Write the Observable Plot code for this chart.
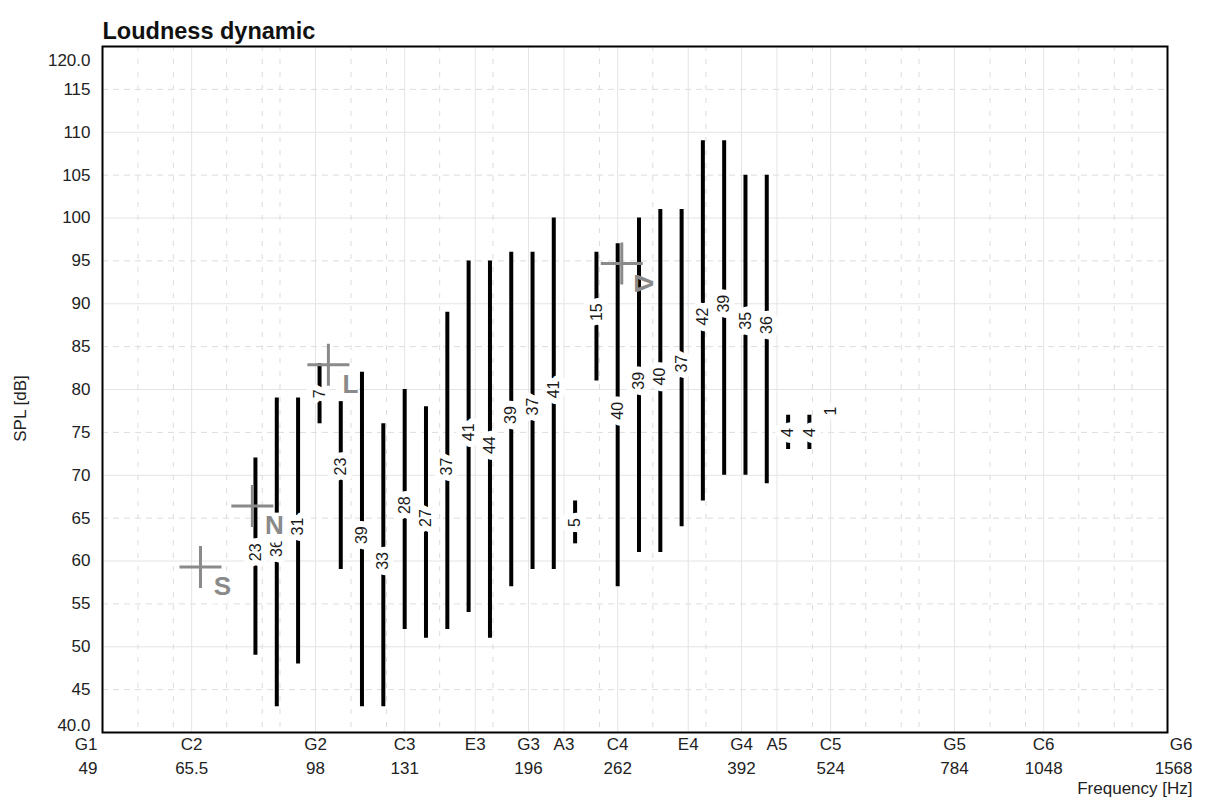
<!DOCTYPE html>
<html><head><meta charset="utf-8">
<script src="https://cdn.jsdelivr.net/npm/d3@7"></script>
<script src="https://cdn.jsdelivr.net/npm/@observablehq/plot@0.6"></script>
<style>body{margin:0;background:#fff;} svg{display:block}</style>
</head><body><div id="chart"></div>
<script>
// ---- data ----
const barFreq = [80.6, 86.4, 92.6, 99.3, 106.4, 114.0, 122.2, 131, 140.4, 150.5, 161.3, 172.9, 185.3, 198.6, 212.8, 228.1, 244.5, 262, 280.8, 301.0, 322.6, 345.7, 370.5, 397.1, 425.6, 456.2, 488.9, 524];
const barLow  = [49, 43, 48, 76, 59, 43, 43, 52, 51, 52, 54, 51, 57, 59, 59, 62, 81, 57, 61, 61, 64, 67, 70, 70, 69, 73, 73, 77];
const barHigh = [72, 79, 79, 83, 82, 82, 76, 80, 78, 89, 95, 95, 96, 96, 100, 67, 96, 97, 100, 101, 101, 109, 109, 105, 105, 77, 77, 78];
const barLabel = [23, 36, 31, 7, 23, 39, 33, 28, 27, 37, 41, 44, 39, 37, 41, 5, 15, 40, 39, 40, 37, 42, 39, 35, 36, 4, 4, 1];

const markerLetter = ["S", "N", "L", "Δ"];
const markerFreq = [67.4, 79.8, 102.2, 265.5];
const markerSPL = [59.3, 66.4, 82.9, 94.7];

const noteNames = ["G1","C2","G2","C3","E3","G3","A3","C4","E4","G4","A5","C5","G5","C6","G6"];
const majorFreq = [49, 65.5, 98, 131, 164.8, 196, 220, 262, 329.6, 392, 440, 524, 784, 1048, 1568];
const freqLabels = ["49","65.5","98","131","","196","","262","","392","","524","784","1048","1568"];
const minorFreq = [55, 61.7, 73.4, 82.4, 87.3, 110, 123.5, 146.8, 174.6, 246.9, 293.7, 349.2, 493.9, 587.3, 659.3, 698.5, 880, 987.8, 1174.7, 1318.5, 1396.9];

const splTicks = [40,45,50,55,60,65,70,75,80,85,90,95,100,105,110,115,120];
const splLabels = ["40.0","45","50","55","60","65","70","75","80","85","90","95","100","105","110","115","120.0"];
const solidY = [50,60,70,80,90,100,110];
const dashedY = [45,55,65,75,85,95,105,115];

// ---- tables ----
const bars = barFreq.map((f, i) => ({f, lo: barLow[i], hi: barHigh[i], label: String(barLabel[i])}));
const markers = markerLetter.map((t, i) => ({t, f: markerFreq[i], v: markerSPL[i]}));
const xTicks = noteNames.map((n, i) => ({n, f: majorFreq[i], fl: freqLabels[i], i}));
const yTicks = splTicks.map((v, i) => ({v, label: splLabels[i], i}));
const last = xTicks.length - 1;

const plus = {draw(ctx, size) {
  const r = Math.sqrt(size / Math.PI);
  ctx.moveTo(-r, 0); ctx.lineTo(r, 0);
  ctx.moveTo(0, -r); ctx.lineTo(0, r);
}};

const font = "'Liberation Sans', Arial, Helvetica, sans-serif";
const tickFill = "#222";
const tickSize = 17;
const mid = d => (d.lo + d.hi) / 2;

const chart = Plot.plot({
  width: 1205, height: 805,
  marginLeft: 102, marginRight: 38, marginTop: 46, marginBottom: 73,
  x: {type: "log", domain: [49, 1568], axis: null},
  y: {domain: [40, 120], axis: null},
  style: {fontFamily: font, background: "#fff", overflow: "visible"},
  marks: [
    // grid
    Plot.ruleY(solidY, {stroke: "#e4e4e4", strokeWidth: 1}),
    Plot.ruleY(dashedY, {stroke: "#dcdcdc", strokeWidth: 1, strokeDasharray: "6,5"}),
    Plot.ruleX(majorFreq, {stroke: "#e4e4e4", strokeWidth: 1}),
    Plot.ruleX(minorFreq, {stroke: "#dcdcdc", strokeWidth: 1, strokeDasharray: "5,8"}),
    // bars
    Plot.ruleX(bars, {x: "f", y1: "lo", y2: "hi", stroke: "#000", strokeWidth: 4}),
    // bar labels: halo then text
    Plot.text(bars, {x: "f", y: mid, text: "label", rotate: -90, textAnchor: "start", dy: 4.5,
      fontSize: 16, fill: "white", stroke: "white", strokeWidth: 12, ariaLabel: "bar-halo"}),
    Plot.text(bars, {x: "f", y: mid, text: "label", rotate: -90, textAnchor: "start", dy: 4.5,
      fontSize: 16, fill: "#1a1a1a", ariaLabel: "bar-label"}),
    // white boxes behind marker letters
    Plot.rect(markers.filter(d => d.t !== "Δ"), {x1: "f", x2: "f", y1: "v", y2: "v",
      insetLeft: 8, insetRight: -29, insetTop: 7, insetBottom: -37, fill: "white"}),
    // crosses
    Plot.dot(markers, {x: "f", y: "v", r: 21, symbol: plus, fill: "none", stroke: "#8a8a8a", strokeWidth: 3}),
    // letters
    Plot.text(markers, {x: "f", y: "v", text: "t", dx: 22, dy: 20, fontSize: 26, fontWeight: "bold",
      fill: "#8a8a8a", rotate: d => d.t === "Δ" ? 90 : 0}),
    // frame
    Plot.frame({stroke: "#000", strokeWidth: 2}),
    // y tick labels
    Plot.text(yTicks.filter(d => d.i > 0 && d.i < splTicks.length - 1), {frameAnchor: "left", y: "v", text: "label",
      textAnchor: "end", dx: -12, fontSize: tickSize, fill: tickFill}),
    Plot.text(yTicks.filter(d => d.i === splTicks.length - 1), {frameAnchor: "left", y: "v", text: "label",
      textAnchor: "end", dx: -12, dy: 14, fontSize: tickSize, fill: tickFill}),
    Plot.text(yTicks.filter(d => d.i === 0), {frameAnchor: "left", y: "v", text: "label",
      textAnchor: "end", dx: -12, dy: -7, fontSize: tickSize, fill: tickFill}),
    // x tick labels
    Plot.text(xTicks.filter(d => d.i > 0 && d.i < last), {x: "f", frameAnchor: "bottom", text: "n", dy: 17, fontSize: tickSize, fill: tickFill}),
    Plot.text(xTicks.filter(d => d.i > 0 && d.i < last), {x: "f", frameAnchor: "bottom", text: "fl", dy: 41, fontSize: tickSize, fill: tickFill}),
    Plot.text(xTicks.filter(d => d.i === 0), {x: "f", frameAnchor: "bottom", text: "n", dy: 17, dx: -5, textAnchor: "end", fontSize: tickSize, fill: tickFill}),
    Plot.text(xTicks.filter(d => d.i === 0), {x: "f", frameAnchor: "bottom", text: "fl", dy: 41, dx: -5, textAnchor: "end", fontSize: tickSize, fill: tickFill}),
    Plot.text(xTicks.filter(d => d.i === last), {x: "f", frameAnchor: "bottom", text: "n", dy: 17, dx: 25, textAnchor: "end", fontSize: tickSize, fill: tickFill}),
    Plot.text(xTicks.filter(d => d.i === last), {x: "f", frameAnchor: "bottom", text: "fl", dy: 41, dx: 25, textAnchor: "end", fontSize: tickSize, fill: tickFill}),
    // axis titles and title
    Plot.text(["Frequency [Hz]"], {frameAnchor: "bottom-right", text: d => d, textAnchor: "end", dx: 25, dy: 61, fontSize: tickSize, fill: tickFill}),
    Plot.text(["SPL [dB]"], {frameAnchor: "left", text: d => d, rotate: -90, textAnchor: "middle", dx: -82, dy: 19, fontSize: tickSize, fill: tickFill}),
    Plot.text(["Loudness dynamic"], {frameAnchor: "top-left", text: d => d, textAnchor: "start", dy: -24, fontSize: 23.5, fontWeight: "bold", fill: "#111"})
  ]
});

// stretch rotated bar labels along their reading direction, as in the original
d3.select(chart).selectAll('g[aria-label="bar-halo"] text, g[aria-label="bar-label"] text')
  .attr("transform", function() { return (this.getAttribute("transform") || "") + " scale(1.35,1)"; });

document.getElementById("chart").appendChild(chart);
</script>
</body></html>
